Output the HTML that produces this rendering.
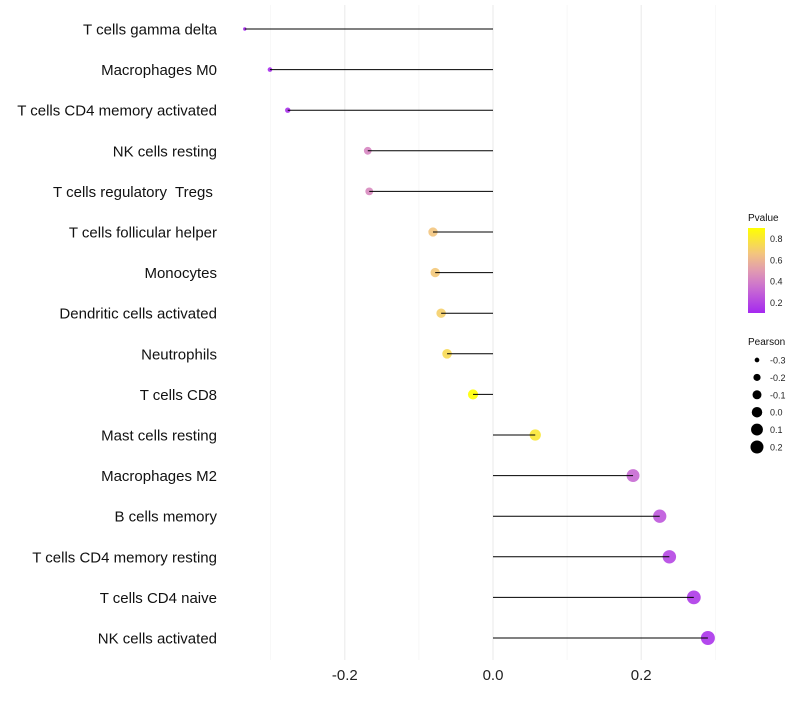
<!DOCTYPE html>
<html><head><meta charset="utf-8"><style>
body{margin:0;background:#fff;font-family:"Liberation Sans",sans-serif}
text{white-space:pre}
</style></head><body>
<svg id="c" width="800" height="700" xmlns="http://www.w3.org/2000/svg"></svg>
<script>
const categories=["T cells gamma delta","Macrophages M0","T cells CD4 memory activated","NK cells resting","T cells regulatory  Tregs ","T cells follicular helper","Monocytes","Dendritic cells activated","Neutrophils","T cells CD8","Mast cells resting","Macrophages M2","B cells memory","T cells CD4 memory resting","T cells CD4 naive","NK cells activated"];
const pearson=[-0.335,-0.301,-0.277,-0.169,-0.167,-0.081,-0.078,-0.070,-0.062,-0.027,0.057,0.189,0.225,0.238,0.271,0.290];
const pvalue=[0.1,0.12,0.13,0.42,0.43,0.66,0.67,0.7,0.74,0.9,0.8,0.32,0.26,0.2,0.16,0.14];
const xTicks=[-0.2,0.0,0.2];
const xTickLabels=["-0.2","0.0","0.2"];
const xMinor=[-0.3,-0.1,0.1,0.3];
const legendPearson=[-0.3,-0.2,-0.1,0.0,0.1,0.2];
const legendPLabels=[0.8,0.6,0.4,0.2];

const NS="http://www.w3.org/2000/svg";
const svg=document.getElementById('c');
const x=v=>493+v*741;
const y=i=>29+i*40.6;
const r=v=>Math.sqrt(Math.max(1,27.6+73.8*v));
const stops=[[0.1,[165,40,240]],[0.35,[204,114,207]],[0.5,[225,155,176]],[0.65,[242,195,131]],[0.9,[255,255,0]]];
function col(p){p=Math.max(0.1,Math.min(0.9,p));for(let k=0;k<stops.length-1;k++){const[a,ca]=stops[k],[b,cb]=stops[k+1];if(p<=b){const t=(p-a)/(b-a);return 'rgb('+ca.map((c,j)=>Math.round(c+(cb[j]-c)*t)).join(',')+')';}}return 'rgb(255,255,0)';}
function el(t,a,txt){const e=document.createElementNS(NS,t);for(const k in a)e.setAttribute(k,a[k]);if(txt!=null)e.textContent=txt;svg.appendChild(e);return e;}
let e;
xMinor.forEach(v=>{e=el('line',{x1:x(v),x2:x(v),y1:5,y2:660,stroke:'#f3f3f3','stroke-width':0.6});

});
xTicks.forEach((v,i)=>{e=el('line',{x1:x(v),x2:x(v),y1:5,y2:660,stroke:'#ebebeb','stroke-width':1.1});


e=el('text',{x:x(v),y:680,'text-anchor':'middle','font-size':15,fill:'#222'},xTickLabels[i]);

});
categories.forEach((c,i)=>{
e=el('text',{x:217,y:y(i)+5.5,'text-anchor':'end','font-size':15,fill:'#111'},c);


e=el('circle',{cx:x(pearson[i]),cy:y(i),r:r(pearson[i]),fill:col(pvalue[i]),'fill-opacity':0.9});


e=el('line',{x1:x(0),x2:x(pearson[i]),y1:y(i),y2:y(i),stroke:'#000','stroke-width':1});


});
e=el('text',{x:748,y:221,'font-size':10,fill:'#111'},'Pvalue');


const defs=el('defs',{});
const g=document.createElementNS(NS,'linearGradient');g.setAttribute('id','pg');g.setAttribute('x1',0);g.setAttribute('y1',1);g.setAttribute('x2',0);g.setAttribute('y2',0);defs.appendChild(g);
for(let k=0;k<=10;k++){const p=0.1+0.8*k/10;const s=document.createElementNS(NS,'stop');s.setAttribute('offset',k/10);s.setAttribute('stop-color',col(p));g.appendChild(s);}
e=el('rect',{x:748,y:228,width:17,height:85,fill:'url(#pg)'});


legendPLabels.forEach(p=>{const yy=313-(p-0.1)/0.8*85;
e=el('text',{x:770,y:yy+3.5,'font-size':9,fill:'#222'},p.toFixed(1));

});
e=el('text',{x:748,y:345,'font-size':10,fill:'#111'},'Pearson');


legendPearson.forEach((v,k)=>{const yy=360+k*17.4;
e=el('circle',{cx:757,cy:yy,r:r(v),fill:'#000'});


e=el('text',{x:770,y:yy+3.5,'font-size':9,fill:'#222'},v.toFixed(1));

});
</script>
</body></html>
